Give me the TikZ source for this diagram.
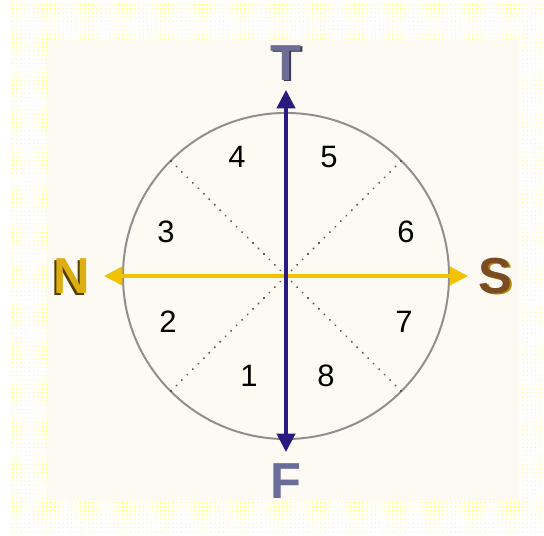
\documentclass[tikz,border=0pt]{standalone}
\usepackage{fontspec}
\setmainfont{Liberation Sans}
\usetikzlibrary{arrows.meta, patterns}

\definecolor{cream}{HTML}{FDFAF3}
\definecolor{rim}{HTML}{8E8E8E}
\definecolor{navy}{HTML}{2A1B80}
\definecolor{gold}{HTML}{F2C200}
\definecolor{tgray}{HTML}{6E6E95}
\definecolor{ngold}{HTML}{DDAE12}
\definecolor{sbrown}{HTML}{7B4B22}
\definecolor{fgray}{HTML}{6C6C9C}

\begin{document}
\begin{tikzpicture}[
  x=0.025cm, y=0.025cm,
  num/.style={font=\fontsize{22}{26}\selectfont, inner sep=0pt},
  pole/.style={font=\fontsize{36}{40}\selectfont\bfseries, inner sep=0pt},
  axis/.style={line width=2.2pt,
    {Triangle[length=13pt,width=13pt]}-{Triangle[length=13pt,width=13pt]}},
  sector/.style={line width=1.3pt, black!65, line cap=round,
    dash pattern=on 0.3pt off 5.2pt},
]
  % Background
  \useasboundingbox (0,0) rectangle (544,536);
  \fill[white] (0,0) rectangle (544,536);
  \fill[pattern=dots, pattern color=yellow!70] (10,1) rectangle (544,531);
  \fill[cream] (47,35) rectangle (519,496);

  % Dial
  \node[circle, draw=rim, line width=1.4pt, minimum size=8.15cm, outer sep=0pt]
    (dial) at (286,260) {};
  \foreach \a in {45,135,225,315}
    \draw[sector] (dial.center) -- (dial.\a);

  % Axis ends
  \coordinate (tipT) at (286,446);
  \coordinate (tipF) at (286,84);
  \coordinate (tipN) at (104,260);
  \coordinate (tipS) at (468,260);

  % Axes
  \draw[axis, gold] (tipN) -- (tipS);
  \draw[axis, navy] (tipF) -- (tipT);

  % Sectors
  \node[num] (s1) at (249,160) {1};
  \node[num] (s2) at (168,214) {2};
  \node[num] (s3) at (166,304) {3};
  \node[num] (s4) at (237,379) {4};
  \node[num] (s5) at (329,379) {5};
  \node[num] (s6) at (406,304) {6};
  \node[num] (s7) at (404,214) {7};
  \node[num] (s8) at (326,160) {8};

  % Pole letters
  \node[pole, text=tgray!55!black] (T-sh) at (288,472) {T};
  \node[pole, text=tgray]          (T)    at (286,473) {T};
  \node[pole, text=ngold!35!black] (N-sh) at (70,258)  {N};
  \node[pole, text=ngold]          (N)    at (72,260)  {N};
  \node[pole, text=ngold!80!black] (S-sh) at (497,259) {S};
  \node[pole, text=sbrown]         (S)    at (495,260) {S};
  \node[pole, text=fgray]          (F)    at (286,55)  {F};

\end{tikzpicture}
\end{document}
